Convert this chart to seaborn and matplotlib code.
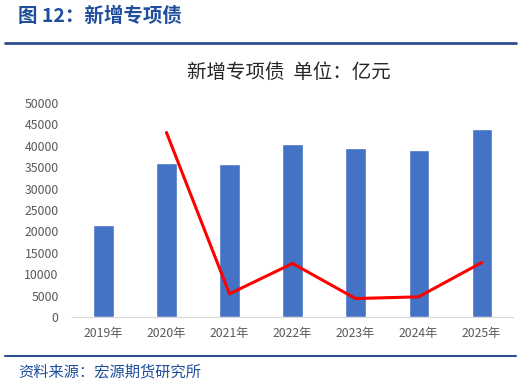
import matplotlib
matplotlib.use("Agg")
import matplotlib.pyplot as plt
import seaborn as sns
import pandas as pd
from matplotlib.lines import Line2D

years = ["2019年", "2020年", "2021年", "2022年", "2023年", "2024年", "2025年"]
bond_values = [21500, 36000, 35800, 40300, 39400, 39000, 44000]
line_years = ["2020年", "2021年", "2022年", "2023年", "2024年", "2025年"]
line_values = [43100, 5400, 12500, 4300, 4700, 12700]
y_ticks = [0, 5000, 10000, 15000, 20000, 25000, 30000, 35000, 40000, 45000, 50000]

sns.set_style("white")
plt.rcParams['font.family'] = ['Noto Sans CJK SC', 'DejaVu Sans']

fig = plt.figure(figsize=(5.21, 3.87), dpi=100)
ax = fig.add_axes([0.138, 0.181, 0.847, 0.553])

df = pd.DataFrame({"year": years, "value": bond_values})
sns.barplot(data=df, x="year", y="value", color="#4472C4", width=0.32,
            saturation=1, ax=ax)

line_x = [years.index(y) for y in line_years]
sns.lineplot(x=line_x, y=line_values, color="#FF0000", linewidth=2.2, ax=ax)

ax.set_xlim(-0.5, 6.5)
ax.set_ylim(0, 50000)
ax.set_yticks(y_ticks)
ax.set_yticklabels([str(v) for v in y_ticks])
ax.set_xlabel("")
ax.set_ylabel("")
for s in ["top", "right", "left"]:
    ax.spines[s].set_visible(False)
ax.spines["bottom"].set_color("#D9D9D9")
ax.tick_params(axis="both", length=0, labelsize=8.8, colors="#595959")
ax.tick_params(axis="x", pad=7)
ax.tick_params(axis="y", pad=9.5)

fig.text(0.555, 0.812, "新增专项债  单位：亿元", ha="center", va="center",
         fontsize=14, color="#262626")

# header and footer
fig.text(0.035, 0.958, "图 12：新增专项债", ha="left", va="center",
         fontsize=14, fontweight="bold", color="#1F4E9C")
fig.add_artist(Line2D([0.01, 0.99], [0.888, 0.888], color="#2F4F8F",
                      linewidth=2.0, transform=fig.transFigure))
fig.add_artist(Line2D([0.01, 0.99], [0.08, 0.08], color="#2F4F8F",
                      linewidth=1.5, transform=fig.transFigure))
fig.text(0.035, 0.039, "资料来源：宏源期货研究所", ha="left", va="center",
         fontsize=11, style="italic", color="#1F4E9C")

fig.savefig("out.png", dpi=100)
